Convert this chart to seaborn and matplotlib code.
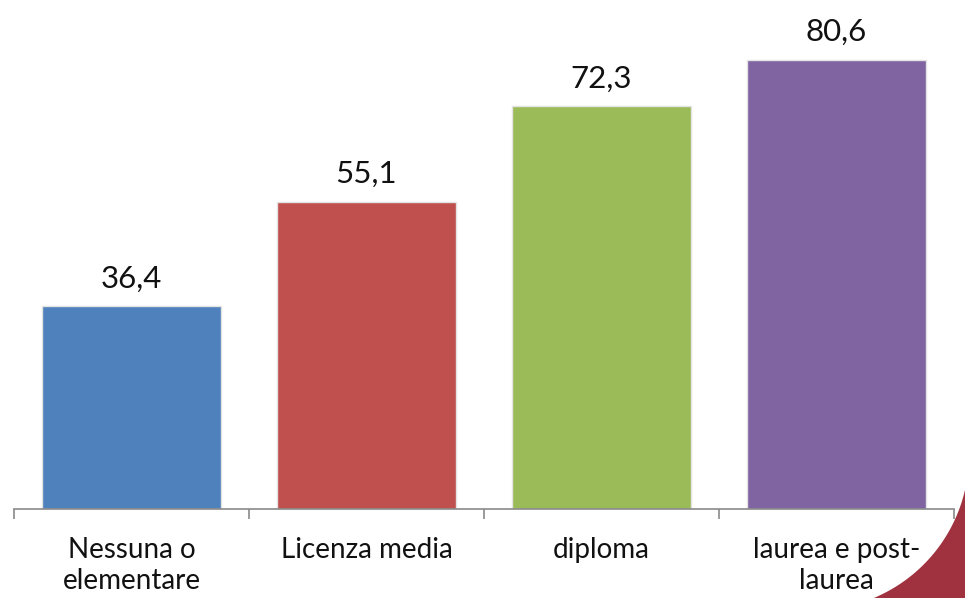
import numpy as np
import pandas as pd
import seaborn as sns
import matplotlib.pyplot as plt
from matplotlib.patches import Polygon

# -----------------------------
# Data
# -----------------------------
categories = ['Nessuna o\nelementare', 'Licenza media', 'diploma', 'laurea e post-\nlaurea']
values = [36.4, 55.1, 72.3, 80.6]
value_labels = ['36,4', '55,1', '72,3', '80,6']
colors = ['#4F81BD', '#C0504D', '#9BBB59', '#8064A2']

df = pd.DataFrame({'categoria': categories, 'valore': values})

# -----------------------------
# Plot
# -----------------------------
sns.set_style('white')
plt.rcParams['font.family'] = ['Lato', 'DejaVu Sans']

W, H = 965, 598
fig = plt.figure(figsize=(W / 100, H / 100), dpi=100)
ax = fig.add_axes([14 / W, (H - 509) / H, (954 - 14) / W, 509 / H])

sns.barplot(data=df, x='categoria', y='valore', hue='categoria', palette=colors,
            saturation=1, width=0.76, legend=False, ax=ax,
            edgecolor='#e3e3e3', linewidth=1)

for cont, lab in zip(ax.containers, value_labels):
    ax.bar_label(cont, labels=[lab], padding=10, fontsize=22.5, color='#111111')

ax.set_ylim(0, 91.4)
ax.set_xlim(-0.5, 3.5)
ax.set_xlabel('')
ax.set_ylabel('')
ax.set_yticks([])

for s in ['left', 'top', 'right']:
    ax.spines[s].set_visible(False)
ax.spines['bottom'].set_color('#8a8a8a')
ax.spines['bottom'].set_linewidth(1.2)

ax.set_xticks(range(len(categories)))
ax.set_xticklabels(categories, fontsize=20, color='#111111', linespacing=1.25)
ax.set_xticks(np.arange(-0.5, len(categories), 1.0), minor=True)
ax.tick_params(axis='x', which='major', length=0, pad=20)
ax.tick_params(axis='x', which='minor', length=7.5, width=1.2, color='#8a8a8a', bottom=True)

# decorative red corner swoosh (pixel coordinates, y down)
t = np.linspace(np.deg2rad(70), np.deg2rad(12), 60)
cx, cy, r = 814, 455, 155
arc = [(cx + r * np.cos(a), cy + r * np.sin(a)) for a in t]
pts = arc + [(W + 10, cy + r * np.sin(np.deg2rad(12))), (W + 10, H + 10)]
pts = [(x / W, 1 - y / H) for x, y in pts]
fig.patches.append(Polygon(pts, closed=True, transform=fig.transFigure,
                           facecolor='#A0323F', edgecolor='none', zorder=10))

fig.savefig('out.png', dpi=100)
